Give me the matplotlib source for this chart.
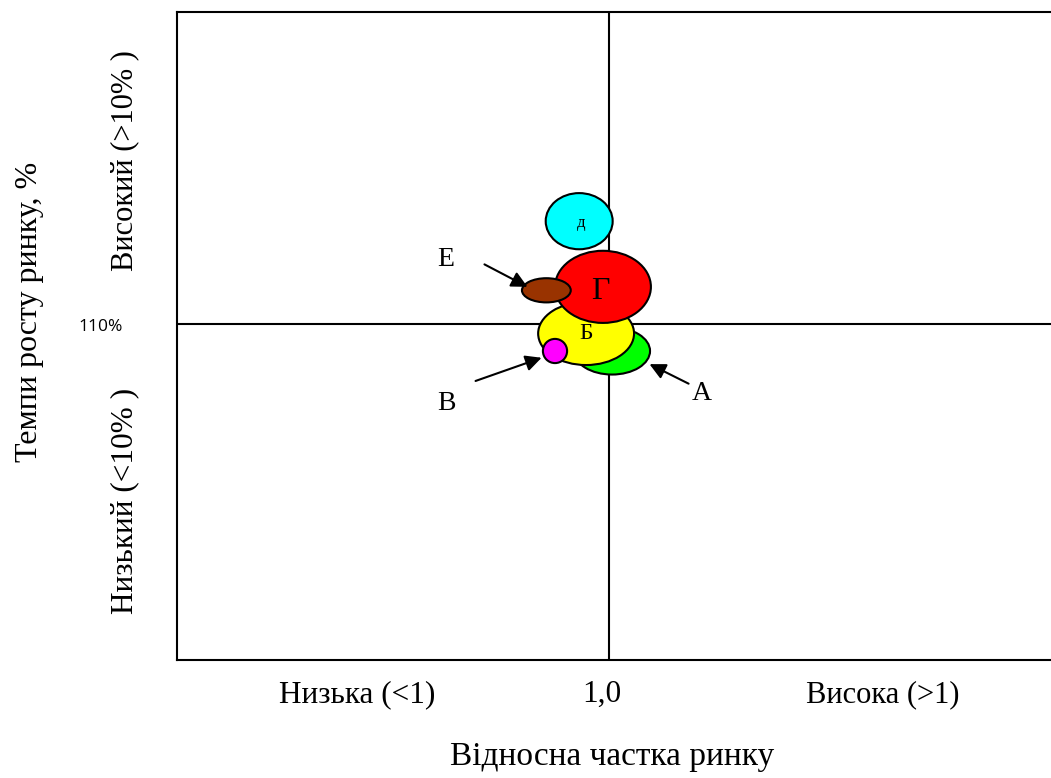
import matplotlib.pyplot as plt
from matplotlib.patches import Ellipse

plt.rcParams['font.family'] = ['Liberation Serif', 'DejaVu Serif']

# products: relative market share (x) and growth index (y), bubble sizes
names = ['А', 'Б', 'В', 'Г', 'Д', 'Е']
share = [1.007, 0.947, 0.875, 0.986, 0.931, 0.855]
growth = [0.9375, 0.978, 0.9375, 1.086, 1.238, 1.078]
widths = [0.176, 0.222, 0.056, 0.222, 0.155, 0.113]
heights = [0.109, 0.146, 0.056, 0.167, 0.130, 0.056]
colors = ['#00ff00', '#ffff00', '#ff00ff', '#ff0000', '#00ffff', '#993300']

W, H = 1051, 778
fig = plt.figure(figsize=(W / 100, H / 100), dpi=100)
ax = fig.add_axes([177 / W, (H - 660) / H, (W - 177) / W, 648 / H])
ax.set_xlim(0, 874 / 432)
ax.set_ylim(1 - 336 / 432, 1 + 312 / 432)
ax.set_xticks([])
ax.set_yticks([])
ax.spines['right'].set_visible(False)
for s in ['left', 'top', 'bottom']:
    ax.spines[s].set_linewidth(1.5)

ax.axvline(1.0, color='black', lw=1.5)
ax.axhline(1.0, color='black', lw=1.5)

order = [0, 1, 3, 5, 2, 4]
for i in order:
    e = Ellipse((share[i], growth[i]), widths[i], heights[i],
                facecolor=colors[i], edgecolor='black', lw=1.5, zorder=3 + order.index(i))
    ax.add_patch(e)

ax.text(share[4] + 0.005, growth[4] - 0.005, 'д', fontsize=12, ha='center', va='center', zorder=20)
ax.text(share[3] - 0.005, growth[3] - 0.01, 'Г', fontsize=23, ha='center', va='center', zorder=20)
ax.text(share[1], growth[1], 'Б', fontsize=17, ha='center', va='center', zorder=20)

arr = dict(arrowstyle='-|>', color='black', lw=1.5, mutation_scale=24)
ax.annotate('', xy=(0.817, 1.083), xytext=(0.706, 1.141), arrowprops=arr, zorder=21)
ax.annotate('', xy=(0.850, 0.924), xytext=(0.685, 0.866), arrowprops=arr, zorder=21)
ax.annotate('', xy=(1.088, 0.910), xytext=(1.190, 0.859), arrowprops=arr, zorder=21)
ax.text(0.623, 1.150, 'Е', fontsize=20, ha='center', va='center')
ax.text(0.623, 0.815, 'В', fontsize=20, ha='center', va='center')
ax.text(1.215, 0.838, 'А', fontsize=20, ha='center', va='center')


def ftext(x, y, s, va='center', **kw):
    fig.text(x / W, 1 - y / H, s, ha='center', va=va, **kw)


ftext(30, 312, 'Темпи росту ринку, %', fontsize=23, rotation=90)
ftext(125, 161, 'Високий (>10% )', fontsize=22, rotation=90)
ftext(125, 501, 'Низький (<10% )', fontsize=22.5, rotation=90)
ftext(101, 327, '110%', fontsize=12.5, family=['Open Sans', 'DejaVu Sans'])
ftext(357, 702, 'Низька (<1)', fontsize=22.5, va='baseline')
ftext(602, 702, '1,0', fontsize=22.5, va='baseline')
ftext(883, 702, 'Висока (>1)', fontsize=22, va='baseline')
ftext(612, 765, 'Відносна частка ринку', fontsize=24, va='baseline')

fig.savefig('out.png', dpi=100)
